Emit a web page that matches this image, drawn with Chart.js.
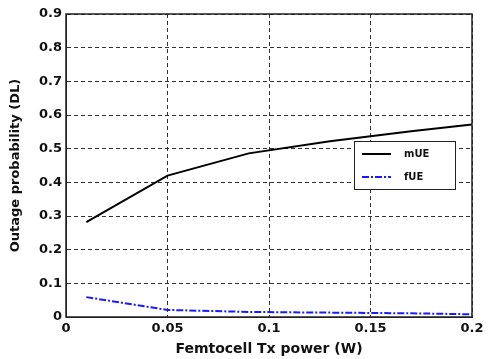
<!DOCTYPE html>
<html>
<head>
<meta charset="utf-8">
<script src="https://cdn.jsdelivr.net/npm/chart.js@4/dist/chart.umd.min.js"></script>
<style>
  html, body { margin: 0; padding: 0; background: #fff; }
  #wrap { width: 491px; height: 359px; }
</style>
</head>
<body>
<div id="wrap"><canvas id="outage-chart"></canvas></div>
<script>
let txPower = [0.01, 0.05, 0.09, 0.13, 0.17, 0.2];
let mUE = [0.282, 0.42, 0.486, 0.522, 0.552, 0.572];
let fUE = [0.059, 0.021, 0.015, 0.013, 0.011, 0.008];
let seriesNames = ['mUE', 'fUE'];

let toPoints = (xs, ys) => xs.map((x, i) => ({ x: x, y: ys[i] }));

let font = 'DejaVu Sans';

// frame around the plot plus the boxed legend
let framePlugin = {
  id: 'frame',
  afterDraw(chart) {
    let ctx = chart.ctx;
    let a = chart.chartArea;
    ctx.save();
    ctx.strokeStyle = '#222';
    ctx.lineWidth = 1.5;
    ctx.setLineDash([]);
    ctx.strokeRect(a.left, a.top, a.right - a.left, a.bottom - a.top);

    let bx = 354, by = 141, bw = 101, bh = 48;
    ctx.fillStyle = '#fff';
    ctx.fillRect(bx, by, bw, bh);
    ctx.lineWidth = 1;
    ctx.strokeStyle = '#222';
    ctx.strokeRect(bx + 0.5, by + 0.5, bw, bh);

    chart.data.datasets.forEach((ds, i) => {
      let y = by + 13 + i * 23;
      ctx.beginPath();
      ctx.strokeStyle = ds.borderColor;
      ctx.lineWidth = ds.borderWidth;
      ctx.setLineDash(ds.borderDash || []);
      ctx.moveTo(bx + 8, y);
      ctx.lineTo(bx + 37, y);
      ctx.stroke();
      ctx.setLineDash([]);
      ctx.fillStyle = '#111';
      ctx.font = 'bold 10px "' + font + '"';
      ctx.textBaseline = 'middle';
      ctx.fillText(ds.label, bx + 50, y);
    });
    ctx.restore();
  }
};

new Chart(document.getElementById('outage-chart'), {
  type: 'scatter',
  data: {
    datasets: [{
      label: seriesNames[0],
      data: toPoints(txPower, mUE),
      showLine: true,
      borderColor: '#000',
      borderWidth: 2,
      pointRadius: 0,
      tension: 0
    }, {
      label: seriesNames[1],
      data: toPoints(txPower, fUE),
      showLine: true,
      borderColor: '#1a1aff',
      borderWidth: 2,
      borderDash: [7, 2, 2, 2],
      pointRadius: 0,
      tension: 0
    }]
  },
  plugins: [framePlugin],
  options: {
    responsive: true,
    maintainAspectRatio: false,
    animation: false,
    layout: { padding: { top: 14, right: 19, left: 8, bottom: 1 } },
    plugins: { legend: { display: false }, tooltip: { enabled: false } },
    scales: {
      x: {
        type: 'linear',
        min: 0,
        max: 0.2,
        afterFit(scale) { scale.height = 41; },
        ticks: {
          stepSize: 0.05,
          color: '#111',
          padding: 4,
          font: { family: font, weight: 'bold', size: 13 },
          callback: v => String(Math.round(v * 100) / 100)
        },
        grid: {
          color: '#333',
          lineWidth: 1,
          tickLength: 0,
          drawTicks: false
        },
        border: { display: true, color: '#222', dash: [4, 3] },
        title: {
          display: true,
          text: 'Femtocell Tx power (W)',
          color: '#111',
          padding: { top: 1, bottom: 0 },
          font: { family: font, weight: 'bold', size: 14 }
        }
      },
      y: {
        min: 0,
        max: 0.9,
        afterFit(scale) { scale.width = 58; },
        ticks: {
          stepSize: 0.1,
          color: '#111',
          padding: 4,
          font: { family: font, weight: 'bold', size: 13 },
          callback: v => String(Math.round(v * 10) / 10)
        },
        grid: {
          color: '#333',
          lineWidth: 1,
          tickLength: 0,
          drawTicks: false
        },
        border: { display: true, color: '#222', dash: [4, 3] },
        title: {
          display: true,
          text: 'Outage probability (DL)',
          color: '#111',
          padding: { top: 0, bottom: 3 },
          font: { family: font, weight: 'bold', size: 13 }
        }
      }
    }
  }
});
</script>
</body>
</html>
